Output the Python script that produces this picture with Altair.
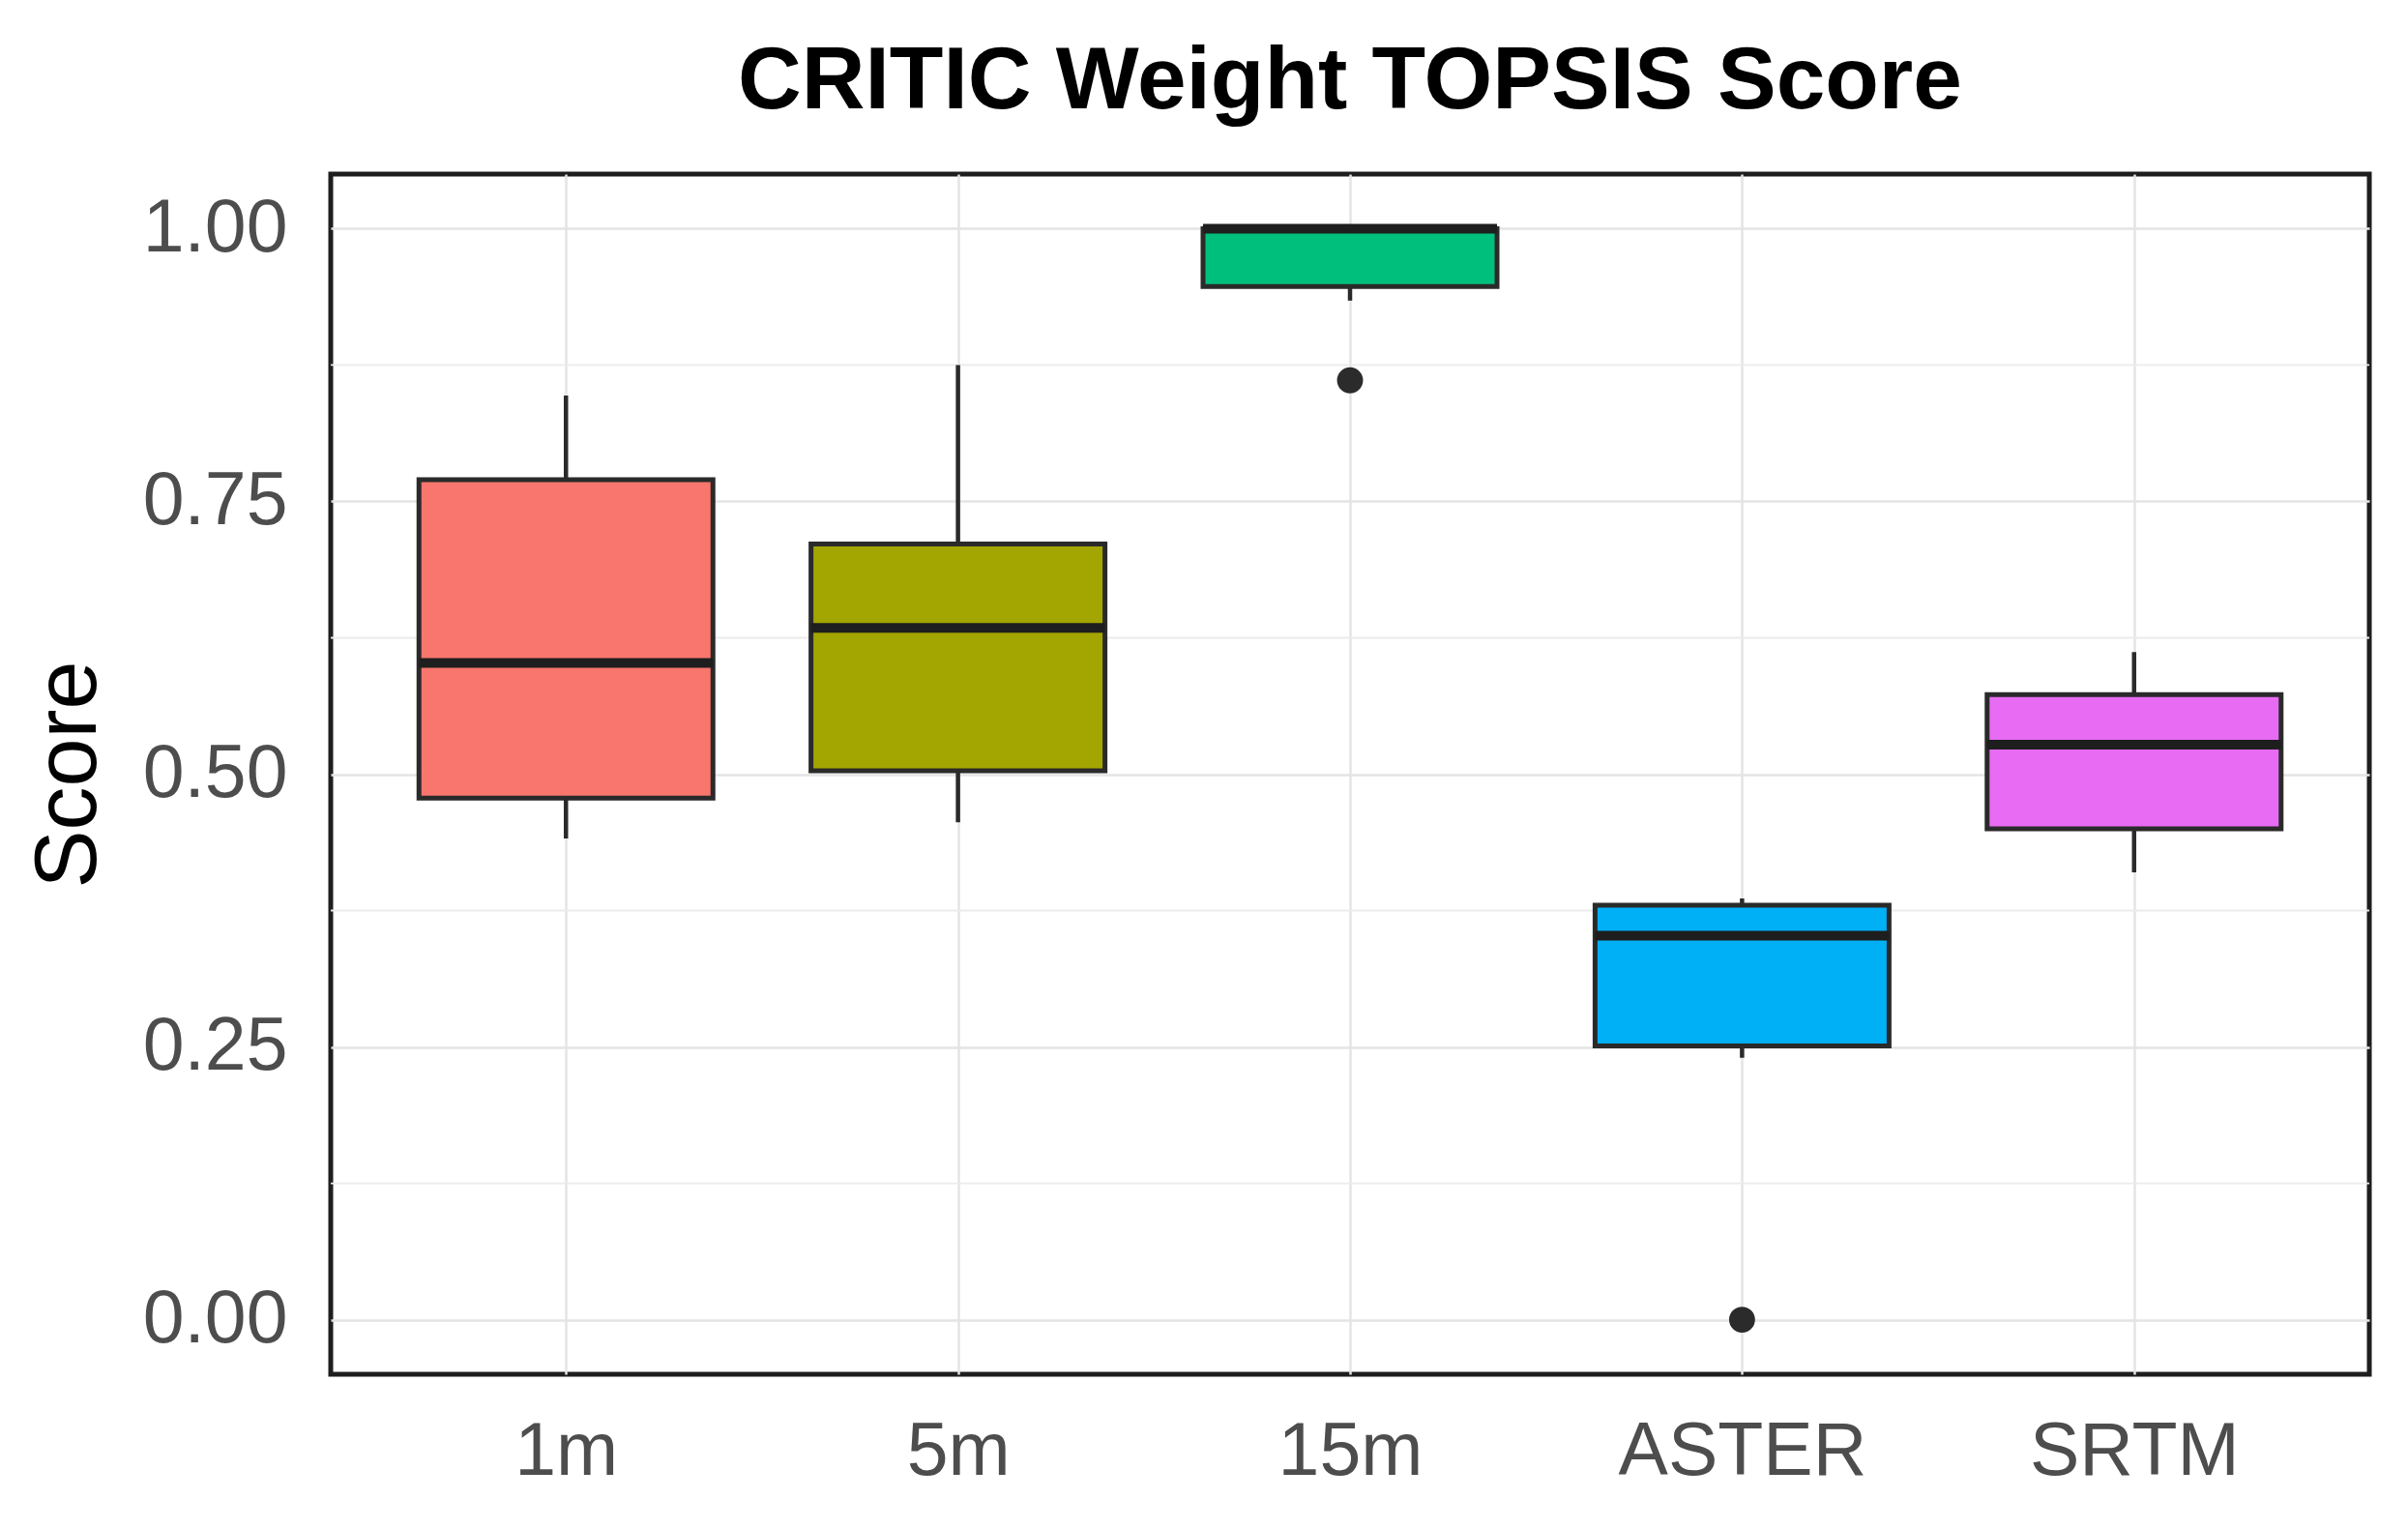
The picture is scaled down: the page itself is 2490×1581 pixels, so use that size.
import altair as alt
import pandas as pd

# ---- data ----
categories = ["1m", "5m", "15m", "ASTER", "SRTM"]
whisker_low = [0.441, 0.456, 0.934, 0.240, 0.410]
q1 = [0.478, 0.503, 0.947, 0.251, 0.450]
median = [0.602, 0.634, 1.000, 0.352, 0.527]
q3 = [0.770, 0.711, 1.000, 0.380, 0.573]
whisker_high = [0.847, 0.875, 1.000, 0.386, 0.612]
fill_colors = ["#F8766D", "#A3A500", "#00BF7D", "#00B0F6", "#E76BF3"]

outlier_group = ["15m", "ASTER"]
outlier_value = [0.861, 0.0]

major_ticks = [0.0, 0.25, 0.5, 0.75, 1.0]
minor_ticks = [0.125, 0.375, 0.625, 0.875]

box_df = pd.DataFrame({
    "cat": categories, "lo": whisker_low, "q1": q1,
    "med": median, "q3": q3, "hi": whisker_high,
})
out_df = pd.DataFrame({"cat": outlier_group, "value": outlier_value})
minor_df = pd.DataFrame({"v": minor_ticks})

FONT = "Liberation Sans"
LABEL_COLOR = "#4D4D4D"
OUTLINE = "#2A2A2A"
BOX_W = 304

xscale = alt.Scale(type="point", domain=categories, padding=0.6)
yscale = alt.Scale(domain=[-0.05, 1.05], nice=False, zero=False)

xaxis = alt.Axis(title=None, labelAngle=0, grid=True, gridColor="#E4E4E4",
                 gridWidth=2.5, tickSize=0, domain=False, labelFontSize=77,
                 labelFont=FONT, labelColor=LABEL_COLOR, labelPadding=42,
                 labelLimit=0)
yaxis = alt.Axis(title="Score", values=major_ticks, format=".2f", grid=True,
                 gridColor="#E4E4E4", gridWidth=2.5, tickSize=0, domain=False,
                 labelFontSize=77, labelFont=FONT, labelColor=LABEL_COLOR,
                 labelPadding=45, labelLimit=0, titleFontSize=90, titleFont=FONT,
                 titleFontWeight="normal", titleColor="black", titlePadding=30)


def X():
    return alt.X("cat:N", scale=xscale, axis=xaxis, sort=categories)


minor = alt.Chart(minor_df).mark_rule(color="#EBEBEB", strokeWidth=1.8).encode(
    y=alt.Y("v:Q", scale=yscale, axis=yaxis)
)

whiskers = alt.Chart(box_df).mark_rule(color=OUTLINE, strokeWidth=4.5).encode(
    x=X(),
    y=alt.Y("lo:Q", scale=yscale, axis=yaxis),
    y2="hi:Q",
)

boxes = alt.Chart(box_df).mark_bar(size=BOX_W, stroke=OUTLINE, strokeWidth=5).encode(
    x=X(),
    y=alt.Y("q1:Q", scale=yscale, axis=yaxis),
    y2="q3:Q",
    fill=alt.Fill("cat:N", scale=alt.Scale(domain=categories, range=fill_colors),
                  legend=None),
)

medians = alt.Chart(box_df).mark_tick(size=BOX_W, thickness=10, color="#1E1E1E",
                                      opacity=1).encode(
    x=X(),
    y=alt.Y("med:Q", scale=yscale, axis=yaxis),
)

outliers = alt.Chart(out_df).mark_circle(size=720, color="#2B2B2B", opacity=1).encode(
    x=X(),
    y=alt.Y("value:Q", scale=yscale, axis=yaxis),
)

chart = alt.layer(minor, whiskers, boxes, medians, outliers).properties(
    width=2108,
    height=1241,
    title=alt.Title("CRITIC Weight TOPSIS Score", fontSize=91, font=FONT,
                    fontWeight="bold", color="black", anchor="middle",
                    frame="group", baseline="alphabetic", offset=61, dy=84),
    autosize=alt.AutoSizeParams(type="none"),
    padding={"left": 334, "top": 172, "right": 32, "bottom": 152},
).configure(
    background="white"
).configure_view(
    stroke="#1E1E1E", strokeWidth=5
)

chart.save("out.html", embed_options={"renderer": "svg", "actions": False})
